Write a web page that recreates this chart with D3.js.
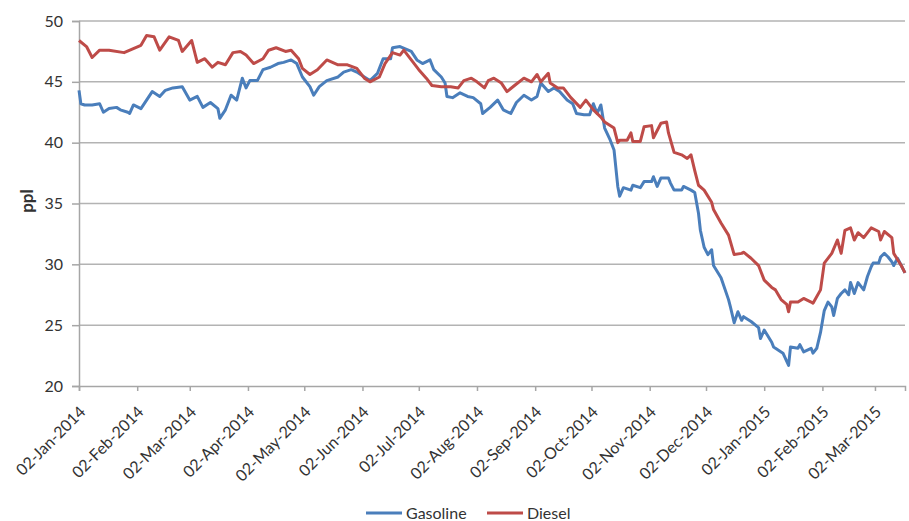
<!DOCTYPE html>
<html>
<head>
<meta charset="utf-8">
<script src="https://cdn.jsdelivr.net/npm/d3@7"></script>
<style>
  body { margin: 0; background: #fff; }
  text { font-family: Lato, "Open Sans", sans-serif; fill: #333; }
</style>
</head>
<body>
<div id="chart"></div>
<script>
// data (pence per litre)
var gasolineDates = ["2014-01-02","2014-01-03","2014-01-05","2014-01-09","2014-01-13","2014-01-15","2014-01-18","2014-01-22","2014-01-24","2014-01-28","2014-01-29","2014-01-31",
  "2014-02-04","2014-02-07","2014-02-10","2014-02-14","2014-02-17","2014-02-21","2014-02-26","2014-03-02","2014-03-06","2014-03-09","2014-03-13","2014-03-17","2014-03-18",
  "2014-03-21","2014-03-24","2014-03-27","2014-03-30","2014-04-01","2014-04-03","2014-04-07","2014-04-10","2014-04-14","2014-04-18","2014-04-21","2014-04-25","2014-04-28",
  "2014-05-01","2014-05-05","2014-05-07","2014-05-10","2014-05-14","2014-05-20","2014-05-23","2014-05-27","2014-05-30","2014-06-03","2014-06-06","2014-06-10","2014-06-13",
  "2014-06-17","2014-06-18","2014-06-22","2014-06-28","2014-07-01","2014-07-04","2014-07-08","2014-07-10","2014-07-14","2014-07-16","2014-07-17","2014-07-20","2014-07-24",
  "2014-07-28","2014-07-31","2014-08-04","2014-08-05","2014-08-09","2014-08-13","2014-08-16","2014-08-20","2014-08-23","2014-08-27","2014-08-31","2014-09-03","2014-09-05",
  "2014-09-09","2014-09-12","2014-09-15","2014-09-19","2014-09-22","2014-09-24","2014-09-28","2014-10-01","2014-10-03","2014-10-05","2014-10-07","2014-10-09","2014-10-12",
  "2014-10-14","2014-10-16","2014-10-17","2014-10-19","2014-10-23","2014-10-24","2014-10-28","2014-10-30","2014-11-03","2014-11-04","2014-11-06","2014-11-08","2014-11-12",
  "2014-11-13","2014-11-15","2014-11-19","2014-11-20","2014-11-24","2014-11-26","2014-11-28","2014-11-29","2014-12-01","2014-12-03","2014-12-05","2014-12-06","2014-12-10",
  "2014-12-14","2014-12-15","2014-12-17","2014-12-19","2014-12-21","2014-12-22","2014-12-26","2014-12-30","2014-12-31","2015-01-02","2015-01-06","2015-01-07","2015-01-11",
  "2015-01-12","2015-01-15","2015-01-16","2015-01-20","2015-01-21","2015-01-23","2015-01-27","2015-01-28","2015-01-30","2015-02-01","2015-02-03","2015-02-05","2015-02-07",
  "2015-02-08","2015-02-10","2015-02-12","2015-02-14","2015-02-16","2015-02-17","2015-02-19","2015-02-21","2015-02-24","2015-02-26","2015-02-28","2015-03-01","2015-03-04",
  "2015-03-05","2015-03-07","2015-03-09","2015-03-11","2015-03-12","2015-03-14","2015-03-16","2015-03-18"];
var gasolineValues = [44.3,43.2,43.1,43.1,43.2,42.5,42.8,42.9,42.7,42.5,42.4,43.1,
  42.8,43.5,44.2,43.8,44.3,44.5,44.6,43.5,43.8,42.9,43.3,42.8,42.0,
  42.7,43.9,43.5,45.3,44.5,45.1,45.1,46.0,46.2,46.5,46.6,46.8,46.5,
  45.4,44.6,43.9,44.6,45.1,45.4,45.8,46.0,45.8,45.4,45.1,45.7,46.9,
  46.9,47.8,47.9,47.5,46.8,46.5,46.8,46.0,45.4,44.9,43.8,43.7,44.1,
  43.8,43.7,43.2,42.4,42.9,43.5,42.7,42.4,43.3,43.9,43.5,43.8,44.9,
  44.2,44.5,44.2,43.5,43.2,42.4,42.3,42.3,43.2,42.4,43.1,41.2,40.2,
  39.4,36.4,35.6,36.3,36.1,36.5,36.3,36.8,36.8,37.2,36.4,37.1,37.1,
  36.7,36.1,36.1,36.4,36.1,35.9,34.2,32.8,31.4,30.8,31.2,29.9,28.9,
  27.1,26.5,25.2,26.1,25.4,25.7,25.3,24.8,23.9,24.6,23.6,23.2,22.8,
  22.7,21.7,23.2,23.1,23.4,22.8,23.1,22.7,23.1,24.4,26.2,26.9,26.5,
  25.8,27.2,27.6,27.9,27.5,28.5,27.6,28.5,27.9,29.0,29.8,30.1,30.1,
  30.6,30.9,30.6,30.2,29.9,30.5,29.9,29.3];

var dieselDates = ["2014-01-02","2014-01-06","2014-01-09","2014-01-13","2014-01-18","2014-01-26","2014-02-04","2014-02-07","2014-02-11","2014-02-14","2014-02-19","2014-02-24",
  "2014-02-26","2014-03-03","2014-03-06","2014-03-10","2014-03-14","2014-03-17","2014-03-21","2014-03-25","2014-03-29","2014-04-01","2014-04-05","2014-04-10","2014-04-13",
  "2014-04-17","2014-04-22","2014-04-25","2014-04-29","2014-05-01","2014-05-05","2014-05-09","2014-05-14","2014-05-20","2014-05-25","2014-05-30","2014-06-03","2014-06-06",
  "2014-06-11","2014-06-14","2014-06-18","2014-06-22","2014-06-24","2014-06-28","2014-07-02","2014-07-06","2014-07-09","2014-07-14","2014-07-19","2014-07-23","2014-07-26",
  "2014-07-30","2014-08-02","2014-08-06","2014-08-08","2014-08-11","2014-08-15","2014-08-18","2014-08-22","2014-08-27","2014-08-31","2014-09-03","2014-09-05","2014-09-09",
  "2014-09-10","2014-09-14","2014-09-17","2014-09-21","2014-09-26","2014-09-29","2014-10-03","2014-10-07","2014-10-09","2014-10-14","2014-10-16","2014-10-17","2014-10-21",
  "2014-10-23","2014-10-24","2014-10-28","2014-10-30","2014-11-03","2014-11-04","2014-11-08","2014-11-11","2014-11-12","2014-11-15","2014-11-19","2014-11-22","2014-11-24",
  "2014-11-26","2014-11-28","2014-12-01","2014-12-05","2014-12-06","2014-12-10","2014-12-14","2014-12-17","2014-12-21","2014-12-22","2014-12-26","2014-12-30","2015-01-02",
  "2015-01-06","2015-01-08","2015-01-11","2015-01-14","2015-01-15","2015-01-16","2015-01-20","2015-01-23","2015-01-27","2015-01-28","2015-02-01","2015-02-03","2015-02-07",
  "2015-02-10","2015-02-12","2015-02-14","2015-02-17","2015-02-19","2015-02-21","2015-02-24","2015-02-28","2015-03-04","2015-03-05","2015-03-07","2015-03-11","2015-03-12",
  "2015-03-16","2015-03-18"];
var dieselValues = [48.4,47.9,47.0,47.6,47.6,47.4,48.0,48.8,48.7,47.6,48.7,48.4,
  47.5,48.4,46.6,46.9,46.2,46.6,46.4,47.4,47.5,47.2,46.5,46.9,47.6,
  47.8,47.5,47.6,46.9,46.1,45.6,46.0,46.8,46.4,46.4,46.1,45.3,45.0,
  45.4,46.5,47.4,47.2,47.6,46.8,46.0,45.3,44.7,44.6,44.6,44.5,45.1,
  45.3,45.0,44.5,45.1,45.3,44.9,44.2,44.7,45.3,45.0,45.6,45.0,45.7,
  44.9,44.5,44.5,43.7,42.9,43.5,42.7,42.1,41.7,41.2,40.0,40.2,40.2,
  40.8,40.1,40.1,41.3,41.4,40.4,41.6,41.7,40.8,39.2,39.0,38.7,39.0,
  37.7,36.5,36.1,35.1,34.5,33.4,32.4,30.8,30.9,31.0,30.5,29.9,28.7,
  28.1,27.9,27.1,26.7,26.1,26.9,26.9,27.2,26.9,26.8,27.9,30.1,30.9,
  32.0,30.9,32.8,33.0,32.0,32.6,32.2,33.0,32.7,32.0,32.7,32.2,30.9,
  29.9,29.3];

var tickDates = ["2014-01-02","2014-02-02","2014-03-02","2014-04-02","2014-05-02","2014-06-02","2014-07-02",
  "2014-08-02","2014-09-02","2014-10-02","2014-11-02","2014-12-02","2015-01-02","2015-02-02","2015-03-02"];
var yTicks = [20, 25, 30, 35, 40, 45, 50];
var seriesNames = ["Gasoline", "Diesel"];
var seriesColors = ["#4a7ebb", "#be4b48"];

var parse = d3.utcParse("%Y-%m-%d");
var fmt = d3.utcFormat("%d-%b-%Y");

var W = 909, H = 521;
var margin = {top: 21, right: 4, bottom: 135, left: 79};

var svg = d3.select("#chart").append("svg")
    .attr("width", W)
    .attr("height", H);

var x = d3.scaleUtc()
    .domain([parse("2014-01-02"), parse("2015-03-18")])
    .range([margin.left, W - margin.right]);

var y = d3.scaleLinear()
    .domain([20, 50])
    .range([H - margin.bottom, margin.top]);

// gridlines
svg.append("g")
    .selectAll("line")
    .data(yTicks.slice(1))
    .enter()
    .append("line")
    .attr("x1", margin.left)
    .attr("x2", W - margin.right)
    .attr("y1", d => y(d))
    .attr("y2", d => y(d))
    .attr("stroke", "#b3b3b3")
    .attr("stroke-width", 1.5);

// y axis
var yAxis = svg.append("g")
    .attr("transform", "translate(" + margin.left + ",0)")
    .call(d3.axisLeft(y).tickValues(yTicks).tickSize(7).tickPadding(9));
yAxis.select(".domain").attr("stroke", "#a6a6a6").attr("stroke-width", 1.5);
yAxis.selectAll(".tick line").attr("stroke", "#a6a6a6").attr("stroke-width", 1.5);
yAxis.selectAll("text").style("font-size", "16px").attr("fill", "#333");

// x axis
var xAxis = svg.append("g")
    .attr("transform", "translate(0," + y(20) + ")")
    .call(d3.axisBottom(x).tickValues(tickDates.map(parse)).tickSize(5).tickFormat(fmt));
xAxis.select(".domain").attr("stroke", "#a6a6a6").attr("stroke-width", 1.5);
xAxis.selectAll(".tick line").attr("stroke", "#a6a6a6").attr("stroke-width", 1.5);
xAxis.selectAll("text")
    .style("font-size", "16px")
    .attr("fill", "#333")
    .attr("text-anchor", "end")
    .attr("y", 0)
    .attr("dy", "0.35em")
    .attr("transform", "translate(3,23) rotate(-45)");

// y axis title
svg.append("text")
    .attr("transform", "translate(33," + y(35.2) + ") rotate(-90)")
    .attr("text-anchor", "middle")
    .style("font-size", "17px")
    .style("font-weight", "bold")
    .text("ppl");

// lines
var line = d3.line()
    .x(d => x(d[0]))
    .y(d => y(d[1]));

var series = [
  d3.zip(gasolineDates.map(parse), gasolineValues),
  d3.zip(dieselDates.map(parse), dieselValues)
];

svg.selectAll("path.series")
    .data(series)
    .enter()
    .append("path")
    .attr("class", "series")
    .attr("fill", "none")
    .attr("stroke", (d, i) => seriesColors[i])
    .attr("stroke-width", 3)
    .attr("stroke-linejoin", "round")
    .attr("d", line);

// legend
var legendX = [366, 487];
var legend = svg.selectAll("g.legend")
    .data(seriesNames)
    .enter()
    .append("g")
    .attr("class", "legend")
    .attr("transform", (d, i) => "translate(" + legendX[i] + ",513)");

legend.append("line")
    .attr("x1", 0).attr("x2", 36)
    .attr("stroke", (d, i) => seriesColors[i])
    .attr("stroke-width", 3);

legend.append("text")
    .attr("x", 40)
    .attr("dy", "0.35em")
    .style("font-size", "16px")
    .text(d => d);
</script>
</body>
</html>
